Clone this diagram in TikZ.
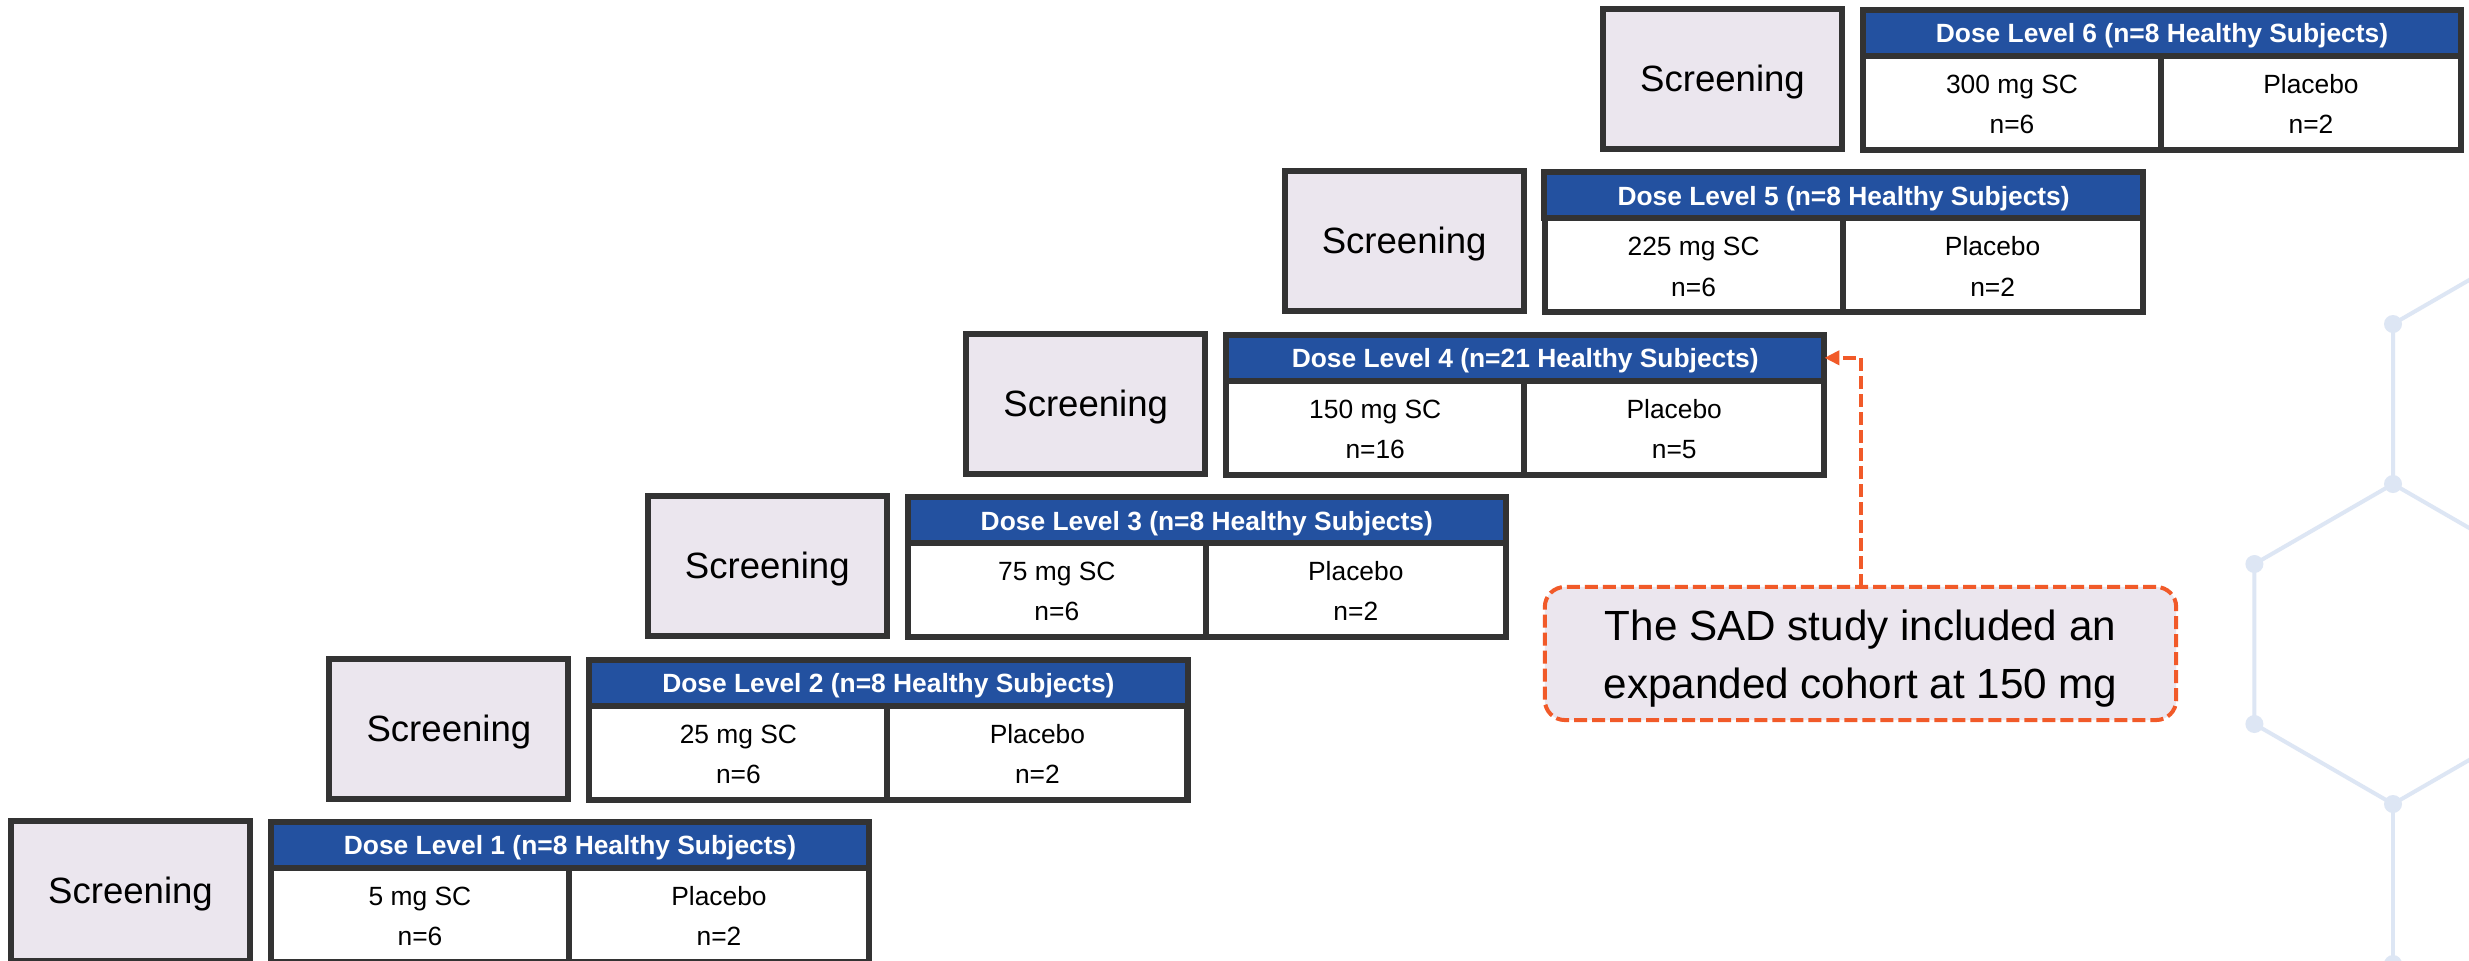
\documentclass[tikz,border=0pt]{standalone}
\usepackage{fontspec}
\setmainfont{Liberation Sans}
\usetikzlibrary{arrows.meta}
\definecolor{lav}{HTML}{EBE6EE}
\definecolor{bord}{HTML}{333333}
\definecolor{hdrblue}{HTML}{2351A0}
\definecolor{orng}{HTML}{F15A29}
\definecolor{hexblue}{HTML}{DDE6F4}
\tikzset{
  cell/.style={draw=bord, line width=0.06cm, inner sep=0pt, outer sep=0pt, rectangle, align=center},
  screenbox/.style={cell, fill=lav, minimum width=2.39cm, minimum height=1.40cm, text height=8.45pt, text depth=1.35pt, font=\fontsize{10.4pt}{12.5pt}\selectfont},
  hdrbox/.style={cell, fill=hdrblue, text=white, minimum width=5.98cm, minimum height=0.46cm, text height=6.31pt, text depth=0.73pt, font=\fontsize{7.5pt}{9pt}\selectfont\bfseries},
  armbox/.style={cell, fill=white, minimum height=0.94cm, text height=17.4pt, text depth=0pt, font=\fontsize{7.5pt}{11.4pt}\selectfont},
  callout/.style={draw=orng, line width=0.04cm, dash pattern=on 0.13cm off 0.05cm, rounded corners=0.2cm, fill=lav, minimum width=6.31cm, minimum height=1.33cm, align=center, inner sep=0pt, outer sep=0pt, text height=25.5pt, text depth=0pt, font=\fontsize{12pt}{16.5pt}\selectfont},
  note arrow/.style={draw=orng, line width=0.04cm, dash pattern=on 0.13cm off 0.05cm, -{Triangle[length=0.15cm,width=0.14cm,sep=0pt]}},
  hexline/.style={draw=hexblue, line width=0.04cm},
  hexdot/.style={fill=hexblue}
}
\begin{document}
\begin{tikzpicture}[x=0.01cm, y=-0.01cm]
\useasboundingbox (0,0) rectangle (2469,960);
\fill[white] (0,0) rectangle (2469,960);
% background honeycomb
\begin{scope}
\clip (0,0) rectangle (2469,960);
\coordinate (h0) at (2531.6,244);
\coordinate (h1) at (2393,324);
\coordinate (h2) at (2393,484);
\coordinate (h3) at (2531.6,564);
\coordinate (h4) at (2254.4,564);
\coordinate (h5) at (2254.4,724);
\coordinate (h6) at (2393,804);
\coordinate (h7) at (2531.6,724);
\coordinate (h8) at (2393,964);
\draw[hexline] (h0) -- (h1) -- (h2) -- (h3);
\draw[hexline] (h2) -- (h4) -- (h5) -- (h6) -- (h7);
\draw[hexline] (h6) -- (h8);
\foreach \p in {h1,h2,h4,h5,h6,h8} \fill[hexdot] (\p) circle (9);
\end{scope}
% dose levels
\foreach \i/\dose/\tot/\na/\nb in {1/5/8/6/2, 2/25/8/6/2, 3/75/8/6/2, 4/150/21/16/5, 5/225/8/6/2, 6/300/8/6/2}{
  \pgfmathsetmacro\dx{318.4*(\i-1)}
  \pgfmathsetmacro\dy{-162.4*(\i-1)}
  \node[screenbox] (scr\i) at (130.5+\dx, 891+\dy) {Screening};
  \node[hdrbox] (hdr\i) at (570+\dx, 845+\dy) {Dose Level \i\ (n=\tot\ Healthy Subjects)};
  \node[armbox, minimum width=2.98cm] (act\i) at (420+\dx, 915+\dy) {\dose\ mg SC\\n=\na};
  \node[armbox, minimum width=3.00cm] (pla\i) at (719+\dx, 915+\dy) {Placebo\\n=\nb};
}
% callout
\node[callout] (call) at (1860.5,653.5) {The SAD study included an\\expanded cohort at 150 mg};
\draw[note arrow] (call.north) |- (hdr4.east);
\end{tikzpicture}
\end{document}
